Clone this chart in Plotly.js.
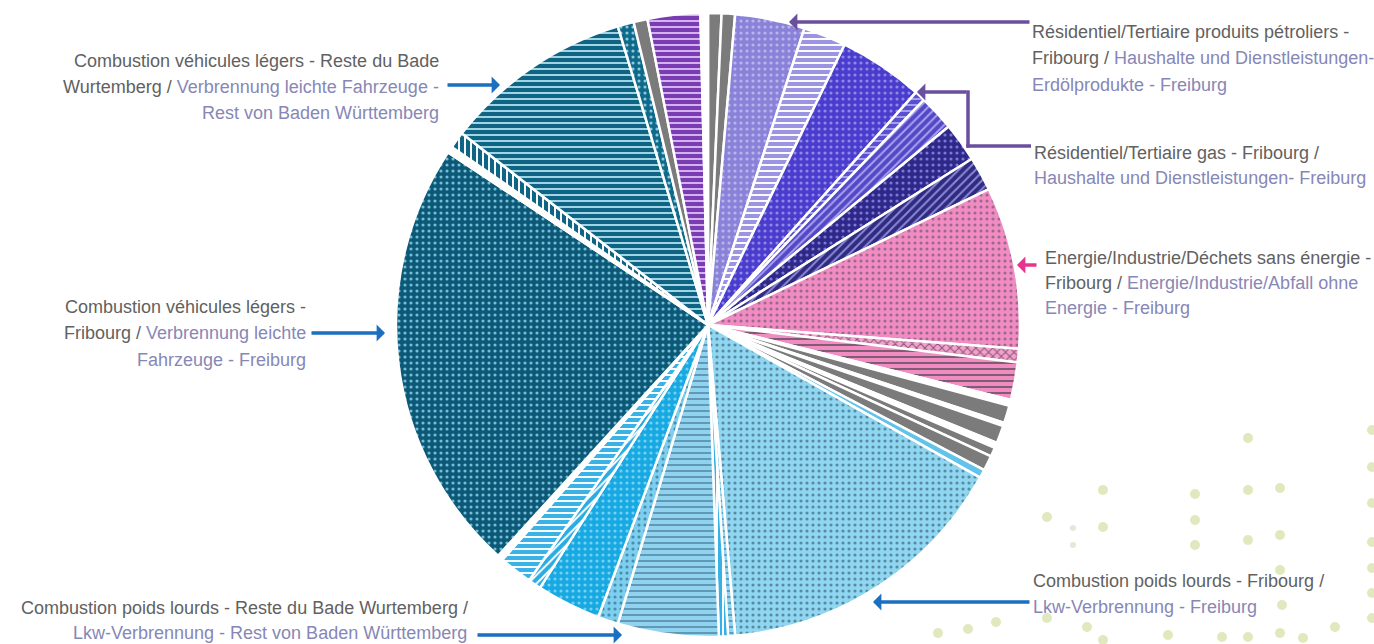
<!DOCTYPE html>
<html>
<head>
<meta charset="utf-8">
<script src="https://cdn.plot.ly/plotly-3.0.1.min.js"></script>
<style>
  html, body { margin: 0; padding: 0; background: #ffffff; }
  #chart { width: 1374px; height: 644px; }
</style>
</head>
<body>
<div id="chart"></div>
<script>
// ---- Data (shares, in degrees of the pie, clockwise from 12 o'clock) ----
const sliceLabels = [
  "Autres 1", "Autres 2",
  "Résidentiel/Tertiaire produits pétroliers - Fribourg",
  "Résidentiel/Tertiaire produits pétroliers - Reste du Bade Wurtemberg",
  "Résidentiel/Tertiaire gas - Fribourg",
  "Résidentiel/Tertiaire gas - divers",
  "Résidentiel/Tertiaire gas - Reste du Bade Wurtemberg",
  "Résidentiel/Tertiaire électricité - Fribourg",
  "Résidentiel/Tertiaire électricité - Reste du Bade Wurtemberg",
  "Energie/Industrie/Déchets sans énergie - Fribourg",
  "Energie/Industrie/Déchets - divers",
  "Energie/Industrie/Déchets sans énergie - Reste du Bade Wurtemberg",
  "séparateur 1",
  "Autres 3", "séparateur 2", "Autres 4", "séparateur 3", "Autres 5", "Autres 6",
  "Combustion poids lourds - divers 1",
  "Combustion poids lourds - Fribourg",
  "Combustion poids lourds - divers 2",
  "Combustion poids lourds - divers 3",
  "Combustion poids lourds - Reste du Bade Wurtemberg",
  "Combustion bus - Fribourg",
  "Combustion bus/cars - Reste du Bade Wurtemberg",
  "Combustion deux-roues - Fribourg",
  "Combustion deux-roues - Reste du Bade Wurtemberg",
  "séparateur 4",
  "Combustion véhicules légers - Fribourg",
  "séparateur 5",
  "Combustion véhicules légers - divers",
  "Combustion véhicules légers - Reste du Bade Wurtemberg",
  "Combustion véhicules légers - autres",
  "Autres 7",
  "Agriculture",
  "séparateur 6"
];
const sliceValues = [
  2.5, 2.5, 13.0, 8.0, 15.8, 2.0, 6.7, 7.3, 6.4, 30.2, 2.5, 7.0,
  1.1, 3.3, 0.6, 3.3, 1.0, 1.7, 2.8, 1.6, 55.7, 1.3, 1.7, 18.8,
  3.8, 12.0, 2.4, 6.2, 1.1, 81.3, 1.2, 3.1, 35.3, 3.0, 2.6, 9.8, 1.4
];
const sliceColors = [
  "#7b7b7b", "#7b7b7b", "#8a82d8", "#9b94e2", "#4a3ccc", "#5a4fd0", "#5448c6",
  "#2d288a", "#2e2b80", "#f28bc4", "#f4a0cc", "#f08cc2",
  "#ffffff", "#7b7b7b", "#ffffff", "#7b7b7b", "#ffffff", "#7b7b7b", "#7b7b7b",
  "#62c3ea", "#8ed6f1", "#8ed6f1", "#37b0e4", "#8fd3ef", "#7ccfee", "#18a8e2",
  "#2aace3", "#3ab2e5", "#ffffff", "#0c5877", "#ffffff", "#0f6384", "#0f6383",
  "#0e6a8a", "#7b7b7b", "#7a3cb2", "#ffffff"
];
const sliceShapes = [
  "", "", ".", "-", ".", "-", "/", ".", "/", ".", "x", "-",
  "", "", "", "", "", "", "",
  "", ".", "-", "|", "-", ".", ".", "/", "-", "",
  ".", "", "|", "-", ".", "", "-", ""
];
const sliceFg = [
  "#7b7b7b", "#7b7b7b", "#b9b4ee", "#ffffff", "#8f88ea", "#a9a3f2", "#a8a2ee",
  "#7d78d0", "#8d89d6", "#9a6a86", "#8a5a78", "#7a5a70",
  "#ffffff", "#7b7b7b", "#ffffff", "#7b7b7b", "#ffffff", "#7b7b7b", "#7b7b7b",
  "#62c3ea", "#5a8aa0", "#5a9ac0", "#ffffff", "#5f94b5", "#4a8cb0", "#72d2f6",
  "#ffffff", "#ffffff", "#ffffff", "#76bdd6", "#ffffff", "#ffffff", "#a6dbea",
  "#8fc8dc", "#7b7b7b", "#d8b8f0", "#ffffff"
];

// ---- helpers: pixel -> paper ----
const W = 1374, H = 644;
const px = x => x / W;
const py = y => 1 - y / H;

const FR = "#616161";   // French text
const DE = "#8787b6";   // German text
const fr = s => '<span style="color:' + FR + '">' + s + '</span>';
const de = s => '<span style="color:' + DE + '">' + s + '</span>';

const annotations = [];
function textLine(x, y, anchor, html) {
  annotations.push({
    xref: "paper", yref: "paper", x: px(x), y: py(y),
    xanchor: anchor, yanchor: "middle", showarrow: false,
    text: html, align: anchor,
    font: { family: "Liberation Sans, Arial, sans-serif", size: 18, color: FR }
  });
}
function arrow(tipX, tipY, tailX, tailY, color) {
  annotations.push({
    xref: "paper", yref: "paper", x: px(tipX), y: py(tipY),
    ax: tailX - tipX, ay: tailY - tipY,
    text: "", showarrow: true, arrowhead: 1, arrowsize: 0.8,
    arrowwidth: 3.5, arrowcolor: color, standoff: 0, startstandoff: 0
  });
}

const BLUE = "#1a6fc0", PURPLE = "#6a4f9e", PINK = "#e8338e";

// Top-left label
textLine(441, 61, "right", fr("Combustion véhicules légers - Reste du Bade"));
textLine(441, 87, "right", fr("Wurtemberg / ") + de("Verbrennung leichte Fahrzeuge -"));
textLine(441, 113, "right", de("Rest von Baden Württemberg"));
arrow(500, 85, 446, 85, BLUE);

// Middle-left label
textLine(308, 307, "right", fr("Combustion véhicules légers -"));
textLine(308, 333, "right", fr("Fribourg / ") + de("Verbrennung leichte"));
textLine(308, 360, "right", de("Fahrzeuge - Freiburg"));
arrow(385, 333, 310, 333, BLUE);

// Bottom-left label
textLine(470, 608, "right", fr("Combustion poids lourds - Reste du Bade Wurtemberg /"));
textLine(469, 633, "right", de("Lkw-Verbrennung - Rest von Baden Württemberg"));
arrow(622, 635, 476, 635, BLUE);

// Top-right label
textLine(1030, 32, "left", fr("Résidentiel/Tertiaire produits pétroliers -"));
textLine(1030, 58, "left", fr("Fribourg / ") + de("Haushalte und Dienstleistungen-"));
textLine(1030, 85, "left", de("Erdölprodukte - Freiburg"));
arrow(789, 22, 1031, 22, PURPLE);

// Gas label
textLine(1032, 153, "left", fr("Résidentiel/Tertiaire gas - Fribourg /"));
textLine(1032, 178, "left", de("Haushalte und Dienstleistungen- Freiburg"));
arrow(917, 92, 968, 92, PURPLE);

// Energie label
textLine(1043, 258, "left", fr("Energie/Industrie/Déchets sans énergie -"));
textLine(1043, 283, "left", fr("Fribourg / ") + de("Energie/Industrie/Abfall ohne"));
textLine(1043, 308, "left", de("Energie - Freiburg"));
arrow(1017, 265, 1038, 265, PINK);

// Bottom-right label
textLine(1031, 581, "left", fr("Combustion poids lourds - Fribourg /"));
textLine(1031, 607, "left", de("Lkw-Verbrennung - Freiburg"));
arrow(873, 602, 1031, 602, BLUE);

// connector of the gas arrow
const shapes = [
  { type: "line", xref: "paper", yref: "paper", x0: px(1031), y0: py(146), x1: px(966.3), y1: py(146),
    line: { color: PURPLE, width: 3.5 } },
  { type: "line", xref: "paper", yref: "paper", x0: px(968), y0: py(147.7), x1: px(968), y1: py(90.3),
    line: { color: PURPLE, width: 3.5 } }
];

// decorative background dots (bottom-right)
const bgDots = [
  [1248,438],[1372,430],[1103,490],[1195,494],[1248,490],[1280,488],[1372,467],
  [1047,517],[1103,527],[1195,520],[1372,503],[1195,545],[1248,540],[1280,535],
  [1372,542],[1280,570],[1372,568],[1372,593],[1282,605],[1335,627],[1372,618],
  [1103,640],[1168,635],[1222,637],[1248,637],[1280,633],[1303,638],[1047,618],
  [1087,627],[938,633],[968,629],[996,622]
];
bgDots.forEach(d => {
  const r = 5;
  shapes.push({ type: "circle", xref: "paper", yref: "paper", layer: "below",
    x0: px(d[0] - r), x1: px(d[0] + r), y0: py(d[1] + r), y1: py(d[1] - r),
    fillcolor: "#e0e9bd", line: { width: 0 } });
});
[[1073,528],[1073,545]].forEach(d => {
  const r = 3;
  shapes.push({ type: "circle", xref: "paper", yref: "paper", layer: "below",
    x0: px(d[0] - r), x1: px(d[0] + r), y0: py(d[1] + r), y1: py(d[1] - r),
    fillcolor: "#e4e8d8", line: { width: 0 } });
});

const trace = {
  type: "pie",
  labels: sliceLabels,
  values: sliceValues,
  sort: false,
  direction: "clockwise",
  rotation: 0,
  textinfo: "none",
  hoverinfo: "label+percent",
  showlegend: false,
  domain: { x: [px(708 - 312), px(708 + 312)], y: [py(325 + 312), py(325 - 312)] },
  marker: {
    colors: sliceColors,
    line: { color: "#ffffff", width: 2.5 },
    pattern: {
      shape: sliceShapes,
      fgcolor: sliceFg,
      bgcolor: sliceColors,
      size: sliceShapes.map(s => s === "." ? 6 : 6),
      solidity: sliceShapes.map(s => s === "." ? 0.22 : 0.32),
      fillmode: "replace"
    }
  }
};

const layout = {
  width: W, height: H,
  margin: { l: 0, r: 0, t: 0, b: 0 },
  paper_bgcolor: "#ffffff",
  plot_bgcolor: "#ffffff",
  showlegend: false,
  annotations: annotations,
  shapes: shapes
};

Plotly.newPlot("chart", [trace], layout, { displayModeBar: false, staticPlot: true });
</script>
</body>
</html>
